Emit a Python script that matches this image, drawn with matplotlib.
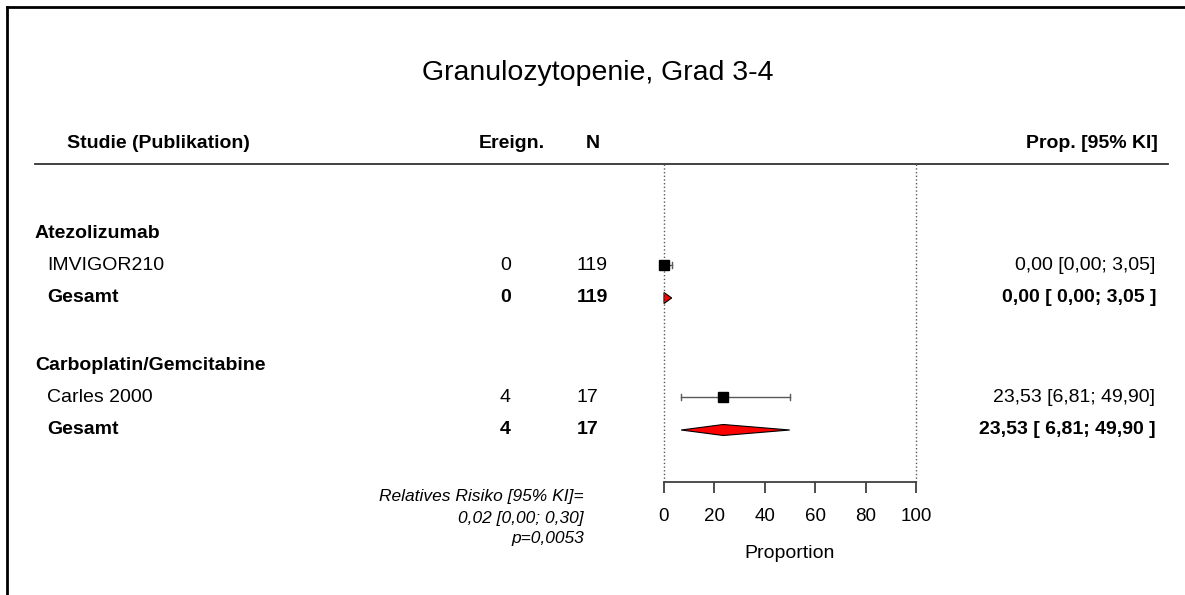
import matplotlib.pyplot as plt
from matplotlib.patches import Polygon

plt.rcParams['font.family'] = ['Liberation Sans', 'DejaVu Sans']

# data
title = "Granulozytopenie, Grad 3-4"
groups = ["Atezolizumab", "Carboplatin/Gemcitabine"]
studies = ["IMVIGOR210", "Carles 2000"]
events = [0, 4]
n_pat = [119, 17]
prop = [0.00, 23.53]
ci_lo = [0.00, 6.81]
ci_hi = [3.05, 49.90]
pooled = [0.00, 23.53]
pooled_lo = [0.00, 6.81]
pooled_hi = [3.05, 49.90]
xticks = [0, 20, 40, 60, 80, 100]
rr_text = ["Relatives Risiko [95% KI]=", "0,02 [0,00; 0,30]", "p=0,0053"]

def fmt(v):
    return f"{v:.2f}".replace(".", ",")

# layout (pixel rows)
W, H = 1185, 595
row_group = [233, 365]
row_study = [265, 397]
row_pool = [298, 430]
fs = 14

fig = plt.figure(figsize=(W / 100, H / 100), dpi=100)
ax = fig.add_axes([0, 0, 1, 1])
ax.set_xlim(0, W)
ax.set_ylim(H, 0)
ax.axis('off')

# frame (left + top)
ax.plot([7, 7], [H, 7], color='black', lw=2)
ax.plot([7, W], [7, 7], color='black', lw=2)

ax.text(598, 80, title, ha='center', va='baseline', fontsize=20.5)

ax.text(67, 143, "Studie (Publikation)", ha='left', va='center', fontsize=fs, weight='bold')
ax.text(545, 143, "Ereign.", ha='right', va='center', fontsize=fs, weight='bold')
ax.text(593, 143, "N", ha='center', va='center', fontsize=fs, weight='bold')
ax.text(1158, 143, "Prop. [95% KI]", ha='right', va='center', fontsize=fs, weight='bold')
ax.plot([35, 1168], [164, 164], color='0.2', lw=1.3)

for i in range(len(groups)):
    ax.text(35, row_group[i], groups[i], ha='left', va='center', fontsize=fs, weight='bold')
    ax.text(47, row_study[i], studies[i], ha='left', va='center', fontsize=fs)
    ax.text(511, row_study[i], str(events[i]), ha='right', va='center', fontsize=fs)
    ax.text(577, row_study[i], str(n_pat[i]), ha='left', va='center', fontsize=fs)
    ax.text(1155, row_study[i], f"{fmt(prop[i])} [{fmt(ci_lo[i])}; {fmt(ci_hi[i])}]",
            ha='right', va='center', fontsize=fs)
    ax.text(47, row_pool[i], "Gesamt", ha='left', va='center', fontsize=fs, weight='bold')
    ax.text(511, row_pool[i], str(events[i]), ha='right', va='center', fontsize=fs, weight='bold')
    ax.text(577, row_pool[i], str(n_pat[i]), ha='left', va='center', fontsize=fs, weight='bold')
    ax.text(1156, row_pool[i], f"{fmt(pooled[i])} [ {fmt(pooled_lo[i])}; {fmt(pooled_hi[i])} ]",
            ha='right', va='center', fontsize=fs, weight='bold')

for k, line in enumerate(rr_text):
    ax.text(584, 497 + 21 * k, line, ha='right', va='center', fontsize=12.5, style='italic')

# forest panel
x0, x1, ytop, ybot = 664, 916, 164, 482
fa = fig.add_axes([x0 / W, (H - ybot) / H, (x1 - x0) / W, (ybot - ytop) / H])
fa.set_xlim(0, 100)
fa.set_ylim(ybot, ytop)
fa.patch.set_alpha(0)
for s in ['top', 'right', 'left']:
    fa.spines[s].set_visible(False)
fa.spines['bottom'].set_linewidth(1.3)
fa.spines['bottom'].set_color('0.25')
fa.set_yticks([])
fa.set_xticks(xticks)
fa.tick_params(axis='x', length=8, width=1.3, color='0.25', labelsize=13.5, pad=11)
fa.set_xlabel("Proportion", fontsize=14, labelpad=14)

fa.axvline(0, ls=':', color='0.35', lw=1, clip_on=False)
fa.axvline(100, ls=':', color='0.35', lw=1, clip_on=False)

for i in range(len(studies)):
    y = row_study[i]
    fa.plot([ci_lo[i], ci_hi[i]], [y, y], color='0.35', lw=1, clip_on=False)
    for c in (ci_lo[i], ci_hi[i]):
        if c > 0:
            fa.plot([c, c], [y - 3, y + 3], color='0.35', lw=1, clip_on=False)
    fa.plot(prop[i], y, marker='s', color='black', markersize=6.5, clip_on=False)

    yp = row_pool[i]
    h = 5.5
    diamond = Polygon([(pooled_lo[i], yp), (pooled[i], yp - h), (pooled_hi[i], yp),
                       (pooled[i], yp + h)], closed=True, facecolor='red',
                      edgecolor='black', lw=0.8, clip_on=False)
    fa.add_patch(diamond)

fig.savefig("out.png", dpi=100)
